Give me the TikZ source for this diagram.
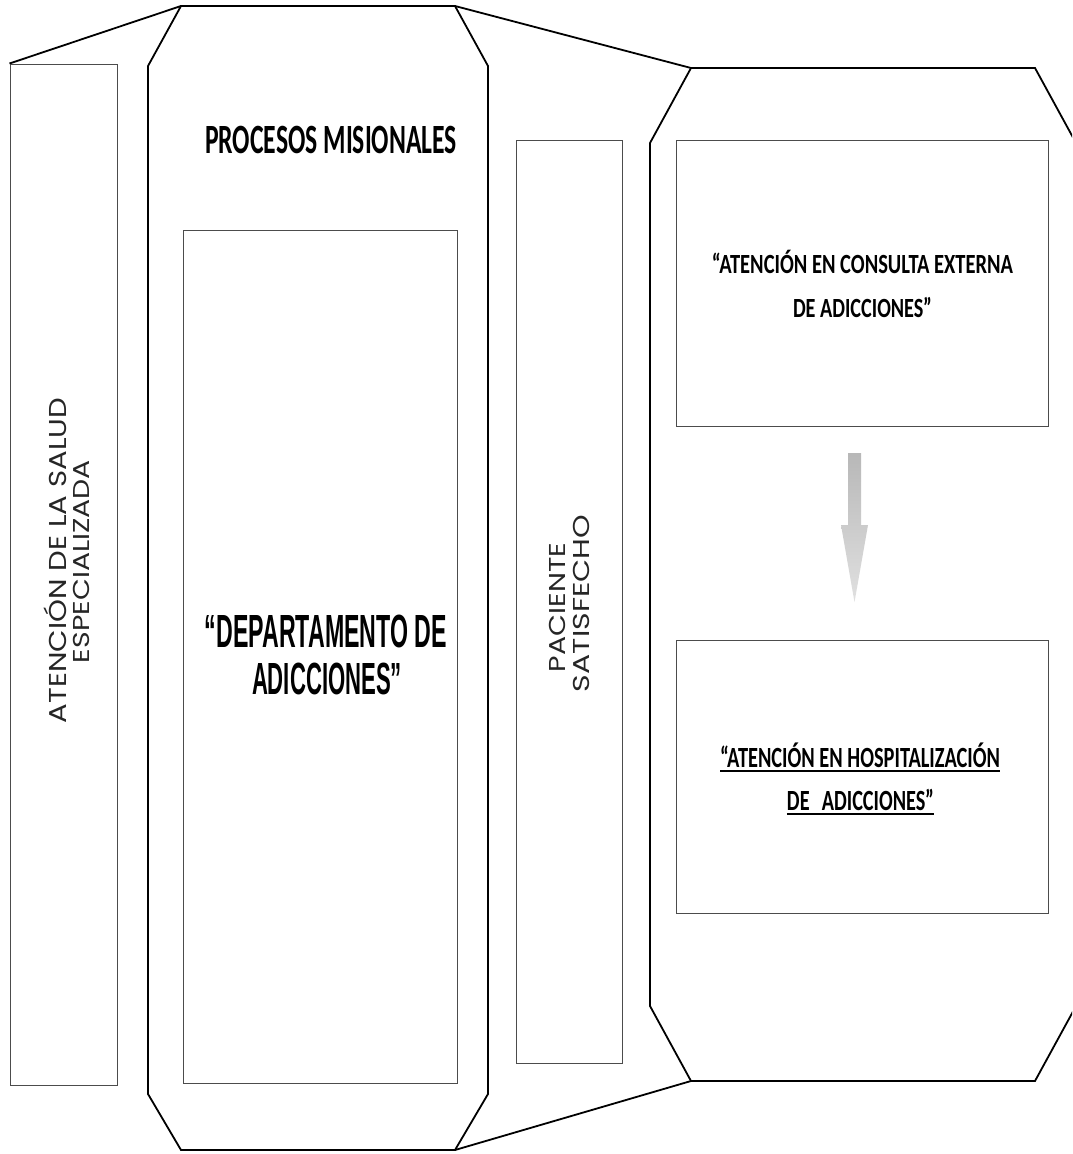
\documentclass[tikz,border=0pt]{standalone}
\usepackage{fontspec}
\usepackage{graphicx}
\newfontfamily\calfont{Carlito}
\newfontfamily\arfont{Liberation Sans}
\newfontfamily\gothfont{Poppins}
\newlength\capht
\newcommand\fitline[3]{\settoheight{\capht}{H}\resizebox{#1}{#2}{\raisebox{0pt}[\capht][0pt]{#3}}}
\newcommand\ulfit[3]{\rlap{\rule[-4.7pt]{#1}{1.4pt}}\fitline{#1}{#2}{#3}}
\tikzset{
  oct/.style={draw=black, line width=1.8pt, line join=miter},
  box/.style={draw=black!70, line width=1pt, inner sep=0pt},
  link/.style={draw=black, line width=1.8pt},
  txt/.style={inner sep=0pt, outer sep=0pt, anchor=base, text=black},
  calib/.style={txt, font=\calfont\bfseries},
  arial/.style={txt, font=\arfont\bfseries},
  goth/.style={txt, font=\gothfont, text=black!85, rotate=90},
}
\begin{document}
\begin{tikzpicture}[x=1pt,y=-1pt]
\useasboundingbox (0,0) rectangle (1072,1154);
\fill[white] (0,0) rectangle (1072,1154);
\clip (0,0) rectangle (1072,1154);

% central octagon corners
\coordinate (c1) at (181,6);
\coordinate (c2) at (455,6);
\coordinate (c3) at (488,66);
\coordinate (c4) at (488,1094);
\coordinate (c5) at (455,1150);
\coordinate (c6) at (181,1150);
\coordinate (c7) at (148,1094);
\coordinate (c8) at (148,66);
% right octagon corners
\coordinate (r1) at (691,68);
\coordinate (r2) at (1035,68);
\coordinate (r3) at (1076,143);
\coordinate (r4) at (1076,1006);
\coordinate (r5) at (1035,1081);
\coordinate (r6) at (691,1081);
\coordinate (r7) at (650,1006);
\coordinate (r8) at (650,143);

\draw[oct] (c1) -- (c2) -- (c3) -- (c4) -- (c5) -- (c6) -- (c7) -- (c8) -- cycle;
\draw[oct] (r1) -- (r2) -- (r3) -- (r4) -- (r5) -- (r6) -- (r7) -- (r8) -- cycle;

% rectangles
\node[box, minimum width=107pt, minimum height=1021pt] (L) at (63.5,574.5) {};
\node[box, minimum width=274pt, minimum height=853pt] (D) at (320,656.5) {};
\node[box, minimum width=106pt, minimum height=923pt] (P) at (569,601.5) {};
\node[box, minimum width=372pt, minimum height=286pt] (C) at (862,283) {};
\node[box, minimum width=372pt, minimum height=273pt] (H) at (862,776.5) {};

% connecting lines
\draw[link] (L.north west) -- (c1);
\draw[link] (c2) -- (r1);
\draw[link] (c5) -- (r6);

% texts
\node[calib] (tproc) at (331,153) {\fitline{252pt}{27pt}{PROCESOS MISIONALES}};
\node[arial] (tdep1) at (326,647) {\fitline{242pt}{32pt}{“DEPARTAMENTO DE}};
\node[arial] (tdep2) at (327,694) {\fitline{150pt}{31pt}{ADICCIONES”}};
\node[calib] (tcon1) at (862.5,273) {\fitline{301pt}{18pt}{“ATENCIÓN EN CONSULTA EXTERNA}};
\node[calib] (tcon2) at (862.5,317) {\fitline{139pt}{18pt}{DE ADICCIONES”}};
\node[calib] (thos1) at (860,767) {\ulfit{280pt}{19pt}{“ATENCIÓN EN HOSPITALIZACIÓN}};
\node[calib] (thos2) at (860.5,810) {\ulfit{147pt}{19pt}{DE\hspace{0.6em}ADICCIONES”}};
\node[goth] (tl1) at (66,560.5) {\fitline{325pt}{17pt}{ATENCIÓN DE LA SALUD}};
\node[goth] (tl2) at (89,561.5) {\fitline{203pt}{16pt}{ESPECIALIZADA}};
\node[goth] (tp1) at (565,607.5) {\fitline{129pt}{16pt}{PACIENTE}};
\node[goth] (tp2) at (589,603.5) {\fitline{177pt}{16pt}{SATISFECHO}};

% block arrow
\coordinate (atop) at (854.5,453);
\shade[top color=black!28, bottom color=black!12]
  ([xshift=-6.5pt]atop) -- ([xshift=6.5pt]atop) -- ([xshift=6.5pt,yshift=-72pt]atop)
  -- ([xshift=13.5pt,yshift=-72pt]atop) -- ([yshift=-149pt]atop)
  -- ([xshift=-13.5pt,yshift=-72pt]atop) -- ([xshift=-6.5pt,yshift=-72pt]atop) -- cycle;
\end{tikzpicture}
\end{document}
